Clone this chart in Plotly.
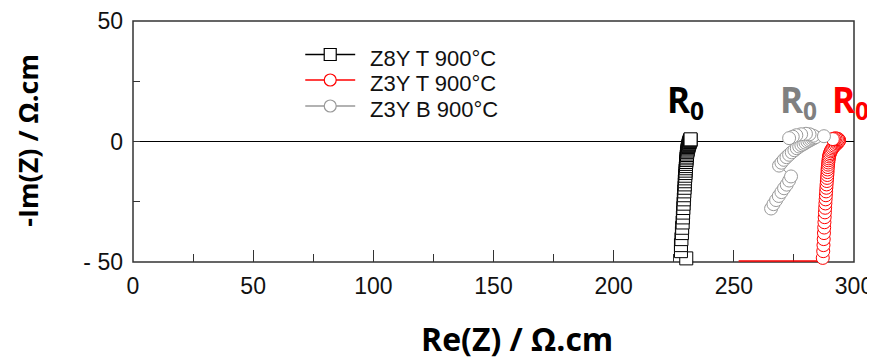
import plotly.graph_objects as go

# ---- data ----
z8y_t_x = [230.2, 228.0, 228.0, 228.2, 228.4, 228.5, 228.7, 228.8, 228.9, 229.0,
           229.1, 229.2, 229.3, 229.4, 229.5, 229.6, 229.6, 229.7, 229.8, 229.9,
           229.9, 230.0, 230.1, 230.1, 230.2, 230.3, 230.3, 230.4, 230.5, 230.5,
           230.6, 230.7, 230.8, 230.9, 231.0, 231.1, 231.2, 231.3, 231.4, 231.5,
           231.6, 231.7, 231.8, 231.9, 232.0, 232.0]
z8y_t_y = [-48.5, -45.5, -43.0, -40.5, -38.0, -35.8, -33.6, -31.5, -29.5, -27.6,
           -25.8, -24.0, -22.3, -20.7, -19.2, -17.8, -16.5, -15.3, -14.2, -13.1,
           -12.1, -11.1, -10.2, -9.3, -8.5, -7.7, -7.0, -6.3, -5.6, -5.0,
           -4.4, -3.8, -3.3, -2.8, -2.3, -1.9, -1.5, -1.1, -0.8, -0.5,
           -0.2, 0.1, 0.3, 0.5, 0.7, 0.9]

z3y_t_x = [287.0, 287.2, 287.3, 287.4, 287.5, 287.6, 287.7, 287.8, 287.9, 288.0,
           288.1, 288.2, 288.3, 288.4, 288.5, 288.6, 288.7, 288.8, 288.9, 289.0,
           289.0, 289.1, 289.2, 289.3, 289.4, 289.5, 289.6, 289.8, 290.0, 290.3,
           290.6, 291.0, 291.4, 291.9, 292.4, 292.9, 293.3, 293.6, 293.8, 293.7,
           293.4, 292.9, 292.3, 291.7, 291.2]
z3y_t_y = [-48.3, -45.5, -43.0, -40.5, -38.0, -35.7, -33.5, -31.4, -29.4, -27.5,
           -25.7, -24.0, -22.3, -20.7, -19.2, -17.8, -16.4, -15.1, -13.9, -12.7,
           -11.6, -10.6, -9.6, -8.7, -7.8, -7.0, -6.2, -5.5, -4.8, -4.1,
           -3.5, -2.9, -2.3, -1.8, -1.3, -0.8, -0.4, 0.0, 0.4, 0.7,
           1.0, 1.2, 1.3, 1.2, 1.0]
# red connecting line running along the lower axis (off-scale segment)
z3y_t_tail_x = [252.0, 287.0]
z3y_t_tail_y = [-49.6, -49.6]

z3y_b_x = [265.5, 266.5, 267.6, 268.7, 269.8, 270.9, 272.0, 273.0, 273.8,
           268.8, 269.8, 270.8, 271.9, 273.0, 274.1, 275.2, 276.2, 277.2, 278.1, 279.0, 279.8,
           280.6, 281.4, 282.1, 282.8, 283.4, 284.0, 283.0, 281.5, 280.0, 278.0, 276.0, 274.5,
           273.0, 287.5]
z3y_b_y = [-27.8, -26.0, -24.3, -22.6, -21.0, -19.4, -17.9, -16.2, -14.5,
           -10.0, -8.8, -7.6, -6.5, -5.5, -4.5, -3.6, -2.8, -2.1, -1.5, -1.0, -0.5,
           0.0, 0.4, 0.8, 1.2, 1.5, 1.8, 2.4, 3.0, 3.2, 3.0, 2.6, 2.0, 1.4, 2.2]

series_names = ["Z8Y T 900°C", "Z3Y T 900°C", "Z3Y B 900°C"]
r0_x = [230.0, 277.0, 298.7]
r0_labels = ["R<sub>0</sub>", "R<sub>0</sub>", "R<sub>0</sub>"]
x_ticks = [0, 50, 100, 150, 200, 250, 300]
y_ticks = [-50, 0, 50]
y_ticktext = ["- 50", "0", "50"]

BLACK = "#000000"
RED = "#ff0000"
GRAY = "#999999"
colors = [BLACK, RED, GRAY]
symbols = ["square", "circle", "circle"]

fig = go.Figure()
fig.add_trace(go.Scatter(
    x=z3y_t_tail_x, y=z3y_t_tail_y, mode="lines", showlegend=False,
    line=dict(color=RED, width=1.6), cliponaxis=False, hoverinfo="skip"))
fig.add_trace(go.Scatter(
    x=z8y_t_x, y=z8y_t_y, name=series_names[0], mode="lines+markers",
    line=dict(color=BLACK, width=1),
    marker=dict(symbol="square", size=13, color="white", line=dict(color=BLACK, width=1)),
    cliponaxis=False, showlegend=False))
fig.add_trace(go.Scatter(
    x=z3y_t_x, y=z3y_t_y, name=series_names[1], mode="lines+markers",
    line=dict(color=RED, width=1),
    marker=dict(symbol="circle", size=13, color="white", line=dict(color=RED, width=1)),
    cliponaxis=False, showlegend=False))
fig.add_trace(go.Scatter(
    x=z3y_b_x, y=z3y_b_y, name=series_names[2], mode="lines+markers",
    line=dict(color=GRAY, width=1),
    marker=dict(symbol="circle", size=13, color="white", line=dict(color=GRAY, width=1)),
    cliponaxis=False, showlegend=False))

# plot area geometry in page pixels (page has an 8 px body margin)
L, T, W, H = 132.5, 21.0, 722.0, 241.0
OFF = 8
def px_x(p):
    return (p - L) / W
def px_y(p):
    return (T + H - p) / H

# plot frame drawn beneath the traces
fig.add_shape(type="rect", xref="paper", yref="paper", x0=0, x1=1, y0=0, y1=1,
              line=dict(color="#333", width=1.5), layer="below")

# custom legend (line + marker + text)
row_py = [54.5, 80, 106]
for name, col, sym, py in zip(series_names, colors, symbols, row_py):
    yp = px_y(py)
    fig.add_shape(type="line", xref="paper", yref="paper", x0=px_x(305), x1=px_x(355), y0=yp, y1=yp,
                  line=dict(color=col, width=1.5))
    fig.add_shape(type="rect" if sym == "square" else "circle", xref="paper", yref="paper",
                  xsizemode="pixel", ysizemode="pixel", xanchor=px_x(330), yanchor=yp,
                  x0=-6, x1=6, y0=-6, y1=6, fillcolor="white", line=dict(color=col, width=1.2))
    fig.add_annotation(x=px_x(368), y=px_y(py + 3.5), xref="paper", yref="paper", text=name,
                       showarrow=False, xanchor="left", yanchor="middle",
                       font=dict(family="Liberation Sans", size=22, color="#111"))

r0_colors = [BLACK, "#808080", RED]
for xv, lab, col in zip(r0_x, r0_labels, r0_colors):
    fig.add_annotation(x=xv, y=16.5, xref="x", yref="y", text=lab, showarrow=False,
                       font=dict(family="Open Sans", size=35, color=col, weight="bold"),
                       xanchor="center", yanchor="middle")

fig.add_annotation(x=px_x(517), y=px_y(338), xref="paper", yref="paper", text="Re(Z) / Ω.cm",
                   showarrow=False, font=dict(family="Open Sans", size=32, color="#000", weight="bold"),
                   xanchor="center", yanchor="middle")
fig.add_annotation(x=px_x(26), y=px_y(140), xref="paper", yref="paper", text="-Im(Z) / Ω.cm",
                   textangle=-90, showarrow=False, borderpad=0,
                   font=dict(family="Open Sans", size=27, color="#000", weight="bold"),
                   xanchor="center", yanchor="middle")

axis_common = dict(showgrid=False, showline=False,
                   ticks="inside", tickcolor="#333", tickwidth=1, automargin=False,
                   layer="below traces",
                   tickfont=dict(family="Liberation Sans", size=23, color="#111"))
fig.update_xaxes(range=[0, 300], tickvals=x_ticks, ticklen=12, zeroline=False,
                 ticklabelstandoff=8,
                 minor=dict(dtick=25, ticks="inside", ticklen=8, tickcolor="#333", tickwidth=1),
                 **axis_common)
fig.update_yaxes(range=[-50, 50], tickvals=y_ticks, ticktext=y_ticktext, ticklen=7,
                 zeroline=True, zerolinecolor="#000", zerolinewidth=1, ticklabelstandoff=9,
                 minor=dict(dtick=25, ticks="inside", ticklen=7, tickcolor="#333", tickwidth=1),
                 **axis_common)

fig_w, fig_h = 875 - OFF, 359 - OFF
fig.update_layout(
    width=fig_w, height=fig_h,
    margin=dict(l=L - OFF, r=fig_w - (L - OFF) - W, t=T - OFF, b=fig_h - (T - OFF) - H,
                autoexpand=False),
    paper_bgcolor="white", plot_bgcolor="white",
    showlegend=False,
)

fig.write_html("out.html")
